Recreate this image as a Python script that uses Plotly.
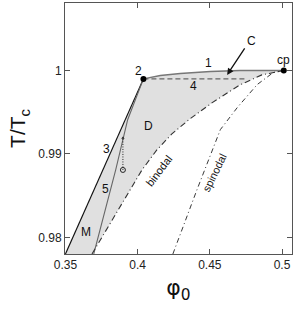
import plotly.graph_objects as go

# ---- data ----
line3_x = [0.35, 0.404]
line3_y = [0.978, 0.9990]

line5_x = [0.3696, 0.3793, 0.3848, 0.3931, 0.404]
line5_y = [0.978, 0.98448, 0.9881, 0.9941, 0.9990]

curve1_x = [0.404, 0.4157, 0.4295, 0.4503, 0.471, 0.5012]
curve1_y = [0.9990, 0.9994, 0.99964, 0.99988, 1.0, 1.0]

line4_x = [0.404, 0.474]
line4_y = [0.9990, 0.9990]

binodal_x = [0.3684, 0.3940, 0.4030, 0.4133, 0.4237, 0.4362, 0.4514, 0.4708, 0.4860, 0.5012]
binodal_y = [0.978, 0.98544, 0.98808, 0.99048, 0.99240, 0.99420, 0.99612, 0.99828, 0.99948, 1.0]

spinodal_x = [0.4244, 0.4411, 0.4573, 0.4690, 0.4828, 0.4939, 0.5012]
spinodal_y = [0.978, 0.98571, 0.99292, 0.99556, 0.99832, 0.99976, 1.0]

points_x = [0.404, 0.5012]
points_y = [0.9990, 1.0]

dotted_x = [0.3898, 0.3898]
dotted_y = [0.98808, 0.99192]

x_ticks = [0.35, 0.4, 0.45, 0.5]
x_tick_labels = ["0.35", "0.4", "0.45", "0.5"]
y_ticks = [0.98, 0.99, 1.0]
y_tick_labels = ["0.98", "0.99", "1"]

labels = ["1", "2", "cp", "C", "4", "D", "3", "5", "M"]
labels_x = [0.449, 0.4005, 0.5008, 0.4787, 0.439, 0.4074, 0.3784, 0.3777, 0.3645]
labels_y = [1.00092, 1.0, 1.00128, 1.00357, 0.99816, 0.99336, 0.9906, 0.9858, 0.98064]

FONT = "Liberation Sans, Arial"

fig = go.Figure()

# shaded region: line 3 up, curve 1 across, binodal back down
shade_x = line3_x + curve1_x[1:] + binodal_x[::-1]
shade_y = line3_y + curve1_y[1:] + binodal_y[::-1]
fig.add_trace(go.Scatter(x=shade_x, y=shade_y, fill="toself", mode="none",
                         fillcolor="#e0e0e0", hoverinfo="skip"))

fig.add_trace(go.Scatter(x=line3_x, y=line3_y, mode="lines",
                         line=dict(color="#111111", width=1.2)))
fig.add_trace(go.Scatter(x=line5_x, y=line5_y, mode="lines",
                         line=dict(color="#666666", width=1.1)))
fig.add_trace(go.Scatter(x=curve1_x, y=curve1_y, mode="lines",
                         line=dict(color="#777777", width=1.4)))
fig.add_trace(go.Scatter(x=line4_x, y=line4_y, mode="lines",
                         line=dict(color="#666666", width=1.2, dash="5px,3px")))
fig.add_trace(go.Scatter(x=binodal_x, y=binodal_y, mode="lines",
                         line=dict(color="#333333", width=1.1, dash="6px,3px,1px,3px")))
fig.add_trace(go.Scatter(x=spinodal_x, y=spinodal_y, mode="lines",
                         line=dict(color="#222222", width=0.9, dash="5px,3px,1px,3px")))
fig.add_trace(go.Scatter(x=dotted_x, y=dotted_y, mode="lines",
                         line=dict(color="#222222", width=1, dash="1px,1.5px")))
fig.add_trace(go.Scatter(x=[dotted_x[0]], y=[dotted_y[0]], mode="markers",
                         marker=dict(symbol="circle-open", size=5, color="#222222",
                                     line=dict(width=1))))
fig.add_trace(go.Scatter(x=[dotted_x[1]], y=[dotted_y[1]], mode="markers",
                         marker=dict(symbol="triangle-up", size=3, color="#222222")))
fig.add_trace(go.Scatter(x=points_x, y=points_y, mode="markers",
                         marker=dict(symbol="circle", size=6, color="#000000")))

for t, lx, ly in zip(labels, labels_x, labels_y):
    fig.add_annotation(x=lx, y=ly, text=t, showarrow=False,
                       font=dict(family=FONT, size=12, color="#111111"))

fig.add_annotation(x=0.4145, y=0.98800, text="binodal", showarrow=False, textangle=-53,
                   font=dict(family=FONT, size=11, color="#111111"))
fig.add_annotation(x=0.4530, y=0.98773, text="spinodal", showarrow=False, textangle=-64,
                   font=dict(family=FONT, size=11, color="#111111"))

# arrow pointing at C region
fig.add_annotation(x=0.462, y=0.99948, ax=0.4748, ay=1.00284, axref="x", ayref="y",
                   xref="x", yref="y", text="", showarrow=True, arrowhead=2,
                   arrowsize=1, arrowwidth=1.3, arrowcolor="#111111")

axis_common = dict(showgrid=False, zeroline=False, ticks="inside", ticklen=5,
                   tickcolor="#555555", mirror="ticks", showline=True,
                   linecolor="#555555", linewidth=1, automargin=False,
                   tickfont=dict(family=FONT, size=12, color="#222222"))

fig.update_xaxes(range=[0.3497, 0.5069], tickvals=x_ticks, ticktext=x_tick_labels,
                 title=dict(text="φ<sub>0</sub>", standoff=8,
                            font=dict(family="DejaVu Sans", size=22, color="#111111")),
                 **axis_common)
fig.update_yaxes(range=[0.978, 1.0081], tickvals=y_ticks, ticktext=y_tick_labels,
                 title=dict(text="T/T<sub>c</sub>", standoff=6,
                            font=dict(family=FONT, size=21, color="#111111")),
                 **axis_common)

fig.update_layout(width=297, height=313, showlegend=False,
                  margin=dict(l=65, r=5, t=3, b=59, autoexpand=False),
                  plot_bgcolor="white", paper_bgcolor="white")

post = ("document.body.style.margin='0px';"
        "document.body.style.padding='0px';"
        "document.body.style.overflow='hidden';"
        "document.documentElement.style.overflow='hidden';"
        "var gd=document.getElementById('{plot_id}');"
        "Plotly.relayout(gd,{width:297,height:313});")

fig.write_html("out.html", post_script=post, config={"displayModeBar": False})
